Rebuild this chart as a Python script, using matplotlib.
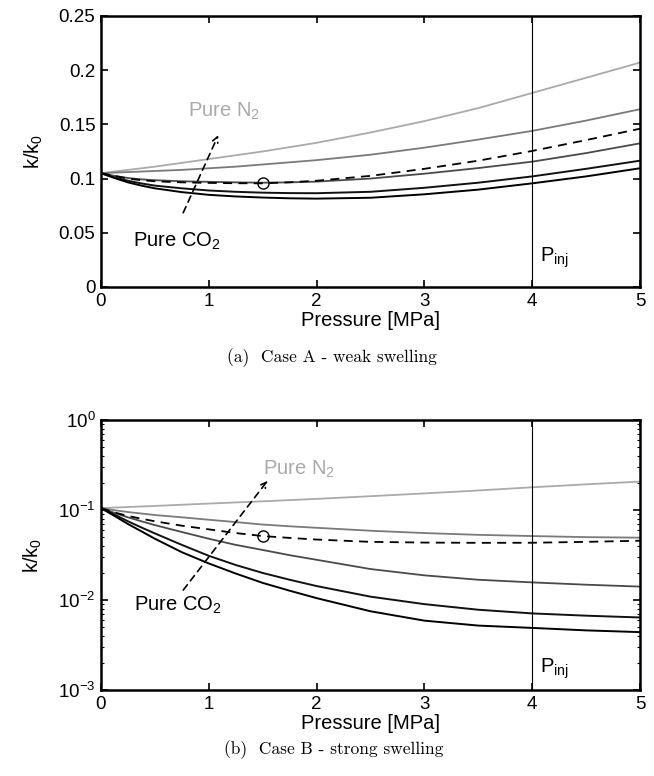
import matplotlib
matplotlib.use("Agg")
import matplotlib.pyplot as plt

plt.rcParams["font.family"] = ["Liberation Sans", "DejaVu Sans"]
plt.rcParams["mathtext.fontset"] = "custom"
plt.rcParams["mathtext.rm"] = "Liberation Sans"
plt.rcParams["mathtext.it"] = "Liberation Sans:italic"

# pressure grid [MPa]
pressure = [0, 0.125, 0.25, 0.375, 0.5, 0.75, 1, 1.25, 1.5, 1.75, 2, 2.5, 3, 3.5, 4, 4.5, 5]

# case A - weak swelling (k/k0)
a_n2 = [0.105, 0.1065, 0.108, 0.1095, 0.111, 0.1145, 0.118, 0.1215, 0.125, 0.129, 0.133, 0.1425, 0.153, 0.165, 0.179, 0.193, 0.207]
a_mix1 = [0.105, 0.1055, 0.106, 0.1065, 0.107, 0.108, 0.1095, 0.111, 0.113, 0.115, 0.117, 0.122, 0.1285, 0.136, 0.144, 0.1535, 0.164]
a_dash = [0.105, 0.1025, 0.100, 0.0985, 0.0975, 0.0965, 0.096, 0.0957, 0.0956, 0.0966, 0.098, 0.1025, 0.109, 0.1165, 0.1255, 0.1355, 0.146]
a_mix2 = [0.105, 0.1025, 0.1005, 0.0993, 0.0985, 0.0975, 0.097, 0.0965, 0.0962, 0.0965, 0.0972, 0.100, 0.1045, 0.1097, 0.1156, 0.1235, 0.1325]
a_mix3 = [0.105, 0.101, 0.098, 0.0955, 0.0935, 0.091, 0.089, 0.0878, 0.087, 0.0866, 0.0865, 0.0878, 0.0915, 0.0962, 0.102, 0.109, 0.1165]
a_co2 = [0.105, 0.1005, 0.0965, 0.0935, 0.091, 0.0875, 0.085, 0.0835, 0.0825, 0.0818, 0.0815, 0.0823, 0.0855, 0.0898, 0.0956, 0.102, 0.1095]

# case B - strong swelling (k/k0)
b_n2 = a_n2
b_mix1 = [0.105, 0.0995, 0.095, 0.0915, 0.088, 0.083, 0.078, 0.0735, 0.069, 0.066, 0.0635, 0.0589, 0.0555, 0.053, 0.0514, 0.050, 0.0493]
b_dash = [0.105, 0.094, 0.086, 0.080, 0.075, 0.067, 0.061, 0.0555, 0.0514, 0.049, 0.047, 0.0443, 0.0435, 0.0432, 0.0433, 0.0443, 0.0456]
b_mix2 = [0.105, 0.093, 0.083, 0.075, 0.068, 0.057, 0.048, 0.041, 0.036, 0.0315, 0.028, 0.0221, 0.0188, 0.0168, 0.0157, 0.0148, 0.0141]
b_mix3 = [0.105, 0.089, 0.075, 0.064, 0.055, 0.041, 0.031, 0.0245, 0.020, 0.0168, 0.0143, 0.0109, 0.0090, 0.0078, 0.0071, 0.0067, 0.0064]
b_co2 = [0.105, 0.086, 0.070, 0.058, 0.048, 0.034, 0.0255, 0.0197, 0.0155, 0.0127, 0.0105, 0.0075, 0.0059, 0.0052, 0.0049, 0.0046, 0.0044]

p_inj = 4
marker_p = 1.5
a_marker = 0.0956
b_marker = 0.0514

fig = plt.figure(figsize=(6.54, 7.76), dpi=100)
ax1 = fig.add_axes([0.1544, 0.6302, 0.8242, 0.3492])
ax2 = fig.add_axes([0.1544, 0.1108, 0.8242, 0.3479])

colors = ["#aaaaaa", "#7a7a7a", "#4a4a4a", "#111111", "#000000"]


def draw(ax, n2, mix1, dash, mix2, mix3, co2, mk):
    ax.plot(pressure, n2, color=colors[0], lw=1.3)
    ax.plot(pressure, mix1, color=colors[1], lw=1.3)
    ax.plot(pressure, mix2, color=colors[2], lw=1.3)
    ax.plot(pressure, mix3, color=colors[3], lw=1.4)
    ax.plot(pressure, co2, color=colors[4], lw=1.4)
    ax.plot(pressure, dash, color="black", lw=1.3, ls=(0, (5, 3.5)))
    ax.plot([marker_p], [mk], "o", mfc="none", mec="black", ms=8, mew=1)
    ax.axvline(p_inj, color="black", lw=0.8)
    ax.set_xlim(0, 5)
    ax.set_xticks([0, 1, 2, 3, 4, 5])
    ax.set_xlabel("Pressure [MPa]", fontsize=14.5, labelpad=1)
    ax.set_ylabel("k/k$_0$", fontsize=14.5, labelpad=10)
    ax.tick_params(direction="in", top=True, right=True, labelsize=13.5,
                   length=5, width=1.2, pad=4)
    ax.tick_params(which="minor", direction="in", top=True, right=True,
                   length=2.5, width=0.8)
    for s in ax.spines.values():
        s.set_linewidth(1.8)


draw(ax1, a_n2, a_mix1, a_dash, a_mix2, a_mix3, a_co2, a_marker)
ax1.set_ylim(0, 0.25)
ax1.set_yticks([0, 0.05, 0.1, 0.15, 0.2, 0.25])
ax1.set_yticklabels(["0", "0.05", "0.1", "0.15", "0.2", "0.25"])
ax1.text(0.81, 0.157, "Pure N$_2$", color="#aaaaaa", fontsize=14.5, va="baseline")
ax1.text(0.30, 0.0369, "Pure CO$_2$", color="black", fontsize=14.5, va="baseline")
ax1.annotate("", xy=(1.088, 0.140), xytext=(0.763, 0.0685),
             arrowprops=dict(arrowstyle="->", color="black", lw=1.2,
                             linestyle=(0, (4, 3)), shrinkA=0, shrinkB=0))
ax1.text(4.07, 0.016, "P$_{\\mathrm{inj}}$", fontsize=14.5, va="bottom")

draw(ax2, b_n2, b_mix1, b_dash, b_mix2, b_mix3, b_co2, b_marker)
ax2.set_yscale("log")
ax2.set_ylim(1e-3, 1)
ax2.set_yticks([1e-3, 1e-2, 1e-1, 1])
ax2.set_yticklabels(["$10^{-3}$", "$10^{-2}$", "$10^{-1}$", "$10^{0}$"])
ax2.text(1.506, 0.245, "Pure N$_2$", color="#aaaaaa", fontsize=14.5, va="baseline")
ax2.text(0.309, 0.0076, "Pure CO$_2$", color="black", fontsize=14.5, va="baseline")
ax2.annotate("", xy=(1.546, 0.212), xytext=(0.763, 0.0129),
             arrowprops=dict(arrowstyle="->", color="black", lw=1.2,
                             linestyle=(0, (4, 3)), shrinkA=0, shrinkB=0))
ax2.text(4.07, 0.00125, "P$_{\\mathrm{inj}}$", fontsize=14.5, va="bottom")

fig.text(0.507, 1 - 358 / 776, "(a)  Case A - weak swelling", family="cmr10",
         fontsize=12.5, ha="center", va="center")
fig.text(0.51, 1 - 750 / 776, "(b)  Case B - strong swelling", family="cmr10",
         fontsize=12.5, ha="center", va="center")

fig.savefig("out.png", dpi=100)
